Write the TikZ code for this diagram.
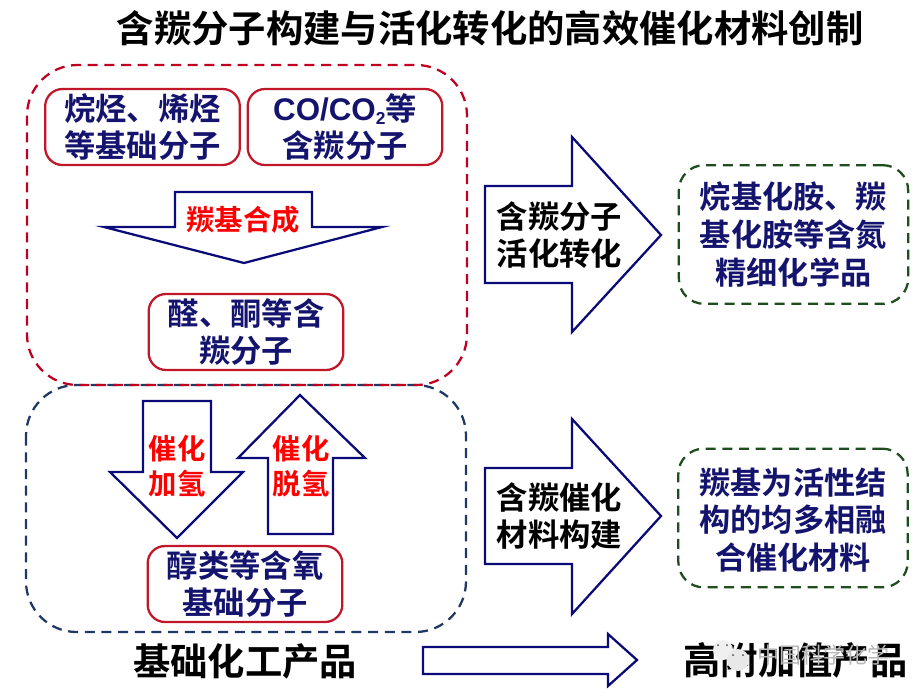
\documentclass[tikz,border=0pt]{standalone}
\usepackage{fontspec}
\setmainfont{Noto Sans CJK SC}[BoldFont={Noto Sans CJK SC Bold}]
\newfontfamily\latinbold{Liberation Sans}[BoldFont={Liberation Sans Bold}]
\definecolor{navy}{HTML}{14146E}
\definecolor{boxred}{HTML}{C0182A}
\definecolor{dashred}{HTML}{C00020}
\definecolor{dashblue}{HTML}{1F3864}
\definecolor{dashgreen}{HTML}{1E4D1E}
\definecolor{arrowblue}{HTML}{0A0A78}
\tikzset{
  x=0.75pt,y=-0.75pt,
  outerbox/.style={line width=1.7pt,dash pattern=on 7.5pt off 5pt},
  molbox/.style={draw=boxred,line width=1.7pt,rounded corners=13pt,minimum width=146pt,minimum height=57pt,inner sep=0pt,text=navy,align=center,font=\fontsize{23.5}{27.5}\selectfont\bfseries},
  prodbox/.style={draw=dashgreen,outerbox,rounded corners=19pt,minimum width=172pt,minimum height=104pt,inner sep=0pt},
  prodtext/.style={text=navy,align=center,inner sep=0pt,font=\fontsize{23.4}{28.3}\selectfont\bfseries},
  blockarrow/.style={draw=arrowblue,line width=1.7pt,miter limit=10,fill=white},
  redlabel/.style={text=red,align=center,inner sep=0pt,font=\fontsize{21.3}{26.5}\selectfont\bfseries},
  biglabel/.style={text=black,align=center,inner sep=0pt,font=\fontsize{23.5}{28}\selectfont\bfseries},
  headline/.style={text=black,inner sep=0pt,font=\fontsize{28}{32}\selectfont\bfseries},
}
\begin{document}
\begin{tikzpicture}
\useasboundingbox (0,0) rectangle (923,697);
% title
\node[headline] (title) at (490,28) {含羰分子构建与活化转化的高效催化材料创制};
% dashed groups
\draw[dashblue,outerbox,rounded corners=38pt] (26,385) rectangle (466,632);
\draw[dashred,outerbox,rounded corners=38pt] (27,65) rectangle (467,385);
% molecule boxes
\node[molbox] (alk) at (142.5,127) {烷烃、烯烃\\等基础分子};
\node[molbox] (co) at (345,127) {{\latinbold CO/CO\raisebox{-0.25ex}{\fontsize{13}{13}\selectfont 2}}等\\含羰分子};
\node[molbox] (ald) at (246,332) {醛、酮等含\\羰分子};
\node[molbox] (alc) at (245,584) {醇类等含氧\\基础分子};
% carbonyl synthesis arrow
\draw[blockarrow] (175,192) -- (312,192) -- (312,227) -- (382,227) -- (244,263) -- (104,227) -- (175,227) -- cycle;
\node[redlabel] (syn) at (243,220) {羰基合成};
% hydrogenation arrows
\draw[blockarrow] (143,401) -- (211,401) -- (211,472) -- (243,472) -- (177,538) -- (110,472) -- (143,472) -- cycle;
\node[redlabel] (hyd) at (177,466) {催化\\加氢};
\draw[blockarrow] (300,395) -- (365,458) -- (333,458) -- (333,534) -- (268,534) -- (268,458) -- (238,458) -- cycle;
\node[redlabel] (dehyd) at (301,466) {催化\\脱氢};
% big right arrows
\draw[blockarrow] (485,186) -- (572,186) -- (572,137) -- (661,235) -- (572,332) -- (572,283) -- (485,283) -- cycle;
\node[biglabel] (act) at (559.5,235) {含羰分子\\活化转化};
\draw[blockarrow] (485,468) -- (572,468) -- (572,419) -- (661,516) -- (572,614) -- (572,564) -- (485,564) -- cycle;
\node[biglabel] (cat) at (559.5,516) {含羰催化\\材料构建};
% product boxes
\node[prodbox] (fine) at (793.5,234.5) {};
\node[prodtext] (finetext) at (fine) {烷基化胺、羰\\基化胺等含氮\\精细化学品};
\node[prodbox] (mat) at (793,518) {};
\node[prodtext] (mattext) at (793,520) {羰基为活性结\\构的均多相融\\合催化材料};
% bottom row
\node[headline] (base) at (245,661) {基础化工产品};
\draw[blockarrow] (423,647) -- (608,647) -- (608,634) -- (637,660) -- (608,686) -- (608,674) -- (423,674) -- cycle;
\node[headline] (high) at (795.5,660) {高附加值产品};
% watermark
\fill[white!88!gray] (723,650) circle (10);
\fill[white!82!gray] (738,660) circle (11);
\fill[black!70] (718,645) circle (1) (727,645) circle (1) (733,655) circle (1) (743,655) circle (1);
\node[text=white!72!black,inner sep=0pt,font=\fontsize{16.5}{18}\selectfont] (mark) at (823,655) {中国科学化学};
\end{tikzpicture}
\end{document}
